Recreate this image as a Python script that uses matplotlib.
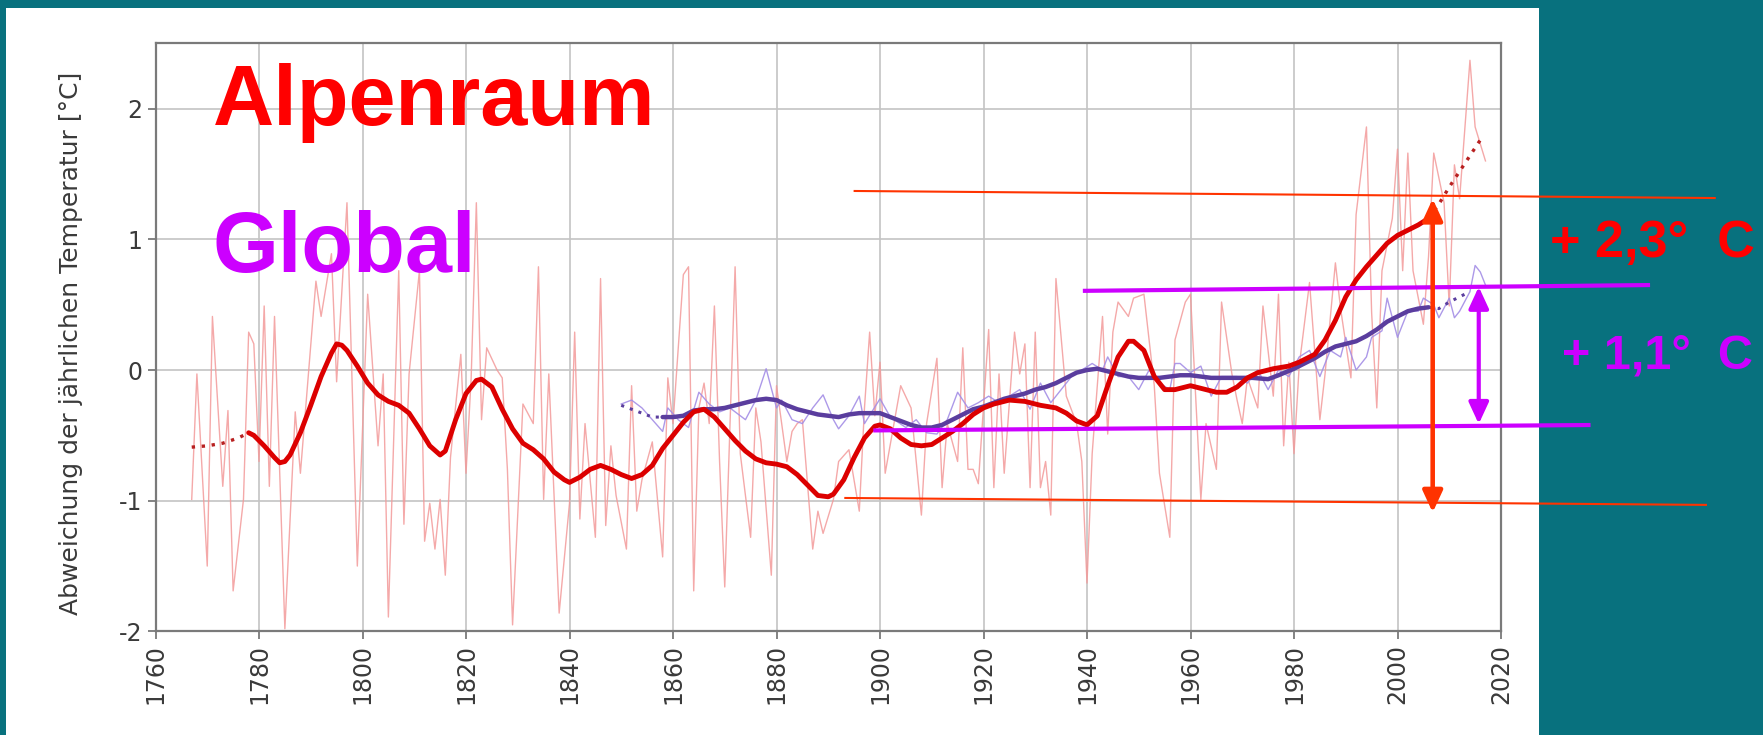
import matplotlib
matplotlib.use("Agg")
import matplotlib.pyplot as plt
from matplotlib.patches import Rectangle

plt.rcParams["font.family"] = ["Liberation Sans", "DejaVu Sans"]
plt.rcParams["axes.unicode_minus"] = False

# Alpenraum, annual values (thin pink line)
alp_years = [1767, 1768, 1770, 1771, 1773, 1774, 1775, 1777, 1778, 1779, 1780, 1781, 1782,
             1783, 1785, 1787, 1788, 1791, 1792, 1794, 1795, 1797, 1799, 1801, 1803, 1804,
             1805, 1807, 1808, 1809, 1811, 1812, 1813, 1814, 1815, 1816, 1817, 1819, 1820,
             1821, 1822, 1823, 1824, 1826, 1827, 1828, 1829, 1831, 1833, 1834, 1835, 1836,
             1838, 1840, 1841, 1842, 1843, 1845, 1846, 1847, 1848, 1849, 1851, 1852, 1853,
             1854, 1856, 1857, 1858, 1859, 1860, 1862, 1863, 1864, 1865, 1866, 1867, 1868,
             1869, 1870, 1872, 1873, 1875, 1876, 1877, 1879, 1880, 1882, 1883, 1884, 1885,
             1887, 1888, 1889, 1891, 1892, 1894, 1896, 1897, 1898, 1899, 1900, 1901, 1904,
             1906, 1908, 1909, 1911, 1912, 1913, 1915, 1916, 1917, 1918, 1919, 1921, 1922,
             1923, 1924, 1926, 1927, 1928, 1929, 1930, 1931, 1932, 1933, 1934, 1936, 1938,
             1939, 1940, 1941, 1943, 1944, 1945, 1946, 1948, 1949, 1951, 1953, 1954, 1956,
             1957, 1959, 1960, 1962, 1963, 1965, 1966, 1968, 1969, 1970, 1971, 1973, 1974,
             1976, 1977, 1978, 1979, 1980, 1981, 1983, 1985, 1986, 1988, 1989, 1991, 1992,
             1994, 1995, 1996, 1997, 1999, 2000, 2001, 2002, 2003, 2005, 2006, 2007, 2009,
             2010, 2011, 2012, 2014, 2015, 2017]
alp_values = [-0.99, -0.03, -1.50, 0.41, -0.89, -0.31, -1.69, -0.99, 0.29, 0.20, -0.70, 0.49, -0.89,
              0.41, -1.98, -0.32, -0.79, 0.68, 0.41, 0.89, -0.09, 1.28, -1.50, 0.58, -0.58, -0.03,
              -1.89, 0.76, -1.18, -0.03, 0.76, -1.31, -1.02, -1.37, -0.99, -1.57, -0.67, 0.12, -0.79,
              -0.06, 1.28, -0.38, 0.17, 0.00, -0.06, -0.76, -1.95, -0.26, -0.41, 0.79, -0.99, -0.03,
              -1.86, -1.02, 0.29, -1.14, -0.41, -1.28, 0.70, -1.19, -0.58, -0.96, -1.37, -0.12, -1.08,
              -0.84, -0.55, -0.99, -1.43, -0.06, -0.41, 0.73, 0.79, -1.69, -0.29, -0.10, -0.41, 0.49,
              -0.70, -1.66, 0.79, -0.64, -1.28, -0.29, -0.55, -1.57, -0.12, -0.70, -0.47, -0.41, -0.38,
              -1.37, -1.08, -1.25, -0.99, -0.70, -0.61, -1.08, -0.29, 0.29, -0.35, 0.06, -0.79, -0.12,
              -0.29, -1.11, -0.41, 0.09, -0.90, -0.41, -0.70, 0.17, -0.76, -0.76, -0.87, 0.31, -0.90,
              -0.03, -0.79, 0.29, -0.03, 0.20, -0.90, 0.29, -0.90, -0.70, -1.11, 0.70, -0.20, -0.41,
              -0.70, -1.63, -0.64, 0.41, -0.49, 0.29, 0.52, 0.41, 0.55, 0.58, -0.12, -0.79, -1.28,
              0.23, 0.52, 0.58, -0.99, -0.41, -0.76, 0.52, -0.03, -0.23, -0.41, -0.06, -0.29, 0.49,
              -0.20, 0.58, -0.58, 0.06, -0.64, 0.03, 0.67, -0.38, -0.03, 0.82, 0.47, -0.06, 1.19,
              1.86, 0.44, -0.29, 0.76, 1.16, 1.69, 0.76, 1.66, 0.76, 0.35, 0.87, 1.66, 1.28,
              0.49, 1.57, 1.31, 2.37, 1.86, 1.60]

# Alpenraum, smoothed (thick red line)
alp_smooth_years = [1778, 1779, 1781, 1783, 1784, 1785, 1786, 1788, 1790, 1792, 1794, 1795, 1796,
                    1797, 1799, 1801, 1803, 1805, 1807, 1809, 1811, 1813, 1815, 1816, 1818, 1820,
                    1822, 1823, 1825, 1827, 1829, 1831, 1833, 1835, 1837, 1839, 1840, 1842, 1844,
                    1846, 1848, 1850, 1852, 1854, 1856, 1858, 1860, 1862, 1864, 1866, 1868, 1870,
                    1872, 1874, 1876, 1878, 1880, 1882, 1884, 1886, 1888, 1890, 1891, 1893, 1895,
                    1897, 1899, 1900, 1902, 1904, 1906, 1908, 1910, 1912, 1914, 1916, 1918, 1920,
                    1922, 1925, 1928, 1931, 1934, 1936, 1938, 1940, 1942, 1944, 1946, 1948, 1949,
                    1951, 1953, 1955, 1957, 1960, 1962, 1965, 1967, 1969, 1971, 1973, 1976, 1979,
                    1981, 1984, 1986, 1988, 1990, 1992, 1994, 1996, 1998, 2000, 2002, 2004, 2006]
alp_smooth_values = [-0.48, -0.50, -0.58, -0.67, -0.71, -0.70, -0.65, -0.48, -0.27, -0.05, 0.13, 0.20, 0.19,
                     0.15, 0.03, -0.10, -0.19, -0.24, -0.27, -0.33, -0.45, -0.58, -0.65, -0.62, -0.38, -0.18,
                     -0.08, -0.07, -0.13, -0.30, -0.45, -0.56, -0.61, -0.68, -0.78, -0.84, -0.86, -0.82, -0.76,
                     -0.73, -0.76, -0.80, -0.83, -0.80, -0.73, -0.60, -0.50, -0.40, -0.32, -0.30, -0.36, -0.45,
                     -0.54, -0.62, -0.68, -0.71, -0.72, -0.74, -0.80, -0.88, -0.96, -0.97, -0.95, -0.84, -0.67,
                     -0.52, -0.43, -0.42, -0.45, -0.52, -0.57, -0.58, -0.57, -0.52, -0.47, -0.41, -0.34, -0.29,
                     -0.26, -0.23, -0.24, -0.27, -0.29, -0.33, -0.39, -0.42, -0.35, -0.12, 0.10, 0.22, 0.22,
                     0.15, -0.05, -0.15, -0.15, -0.12, -0.14, -0.17, -0.17, -0.13, -0.06, -0.02, 0.01, 0.03,
                     0.06, 0.12, 0.23, 0.38, 0.56, 0.69, 0.79, 0.88, 0.97, 1.03, 1.07, 1.11, 1.16]
alp_head_years = [1767, 1770, 1773, 1776, 1778]
alp_head_values = [-0.59, -0.58, -0.56, -0.52, -0.48]
alp_tail_years = [2006, 2008, 2010, 2012, 2014, 2016]
alp_tail_values = [1.16, 1.27, 1.40, 1.52, 1.64, 1.76]

# Global, annual values (thin lilac line)
glob_years = [1850, 1852, 1854, 1856, 1858, 1859, 1861, 1863, 1865, 1867, 1869, 1871, 1874, 1876,
              1878, 1880, 1881, 1883, 1885, 1887, 1889, 1891, 1892, 1894, 1896, 1897, 1900, 1902,
              1905, 1907, 1909, 1911, 1913, 1915, 1917, 1919, 1921, 1923, 1925, 1927, 1929, 1931,
              1933, 1935, 1937, 1939, 1941, 1943, 1944, 1946, 1948, 1950, 1952, 1954, 1956, 1957,
              1958, 1960, 1962, 1964, 1966, 1968, 1969, 1971, 1973, 1975, 1977, 1979, 1981, 1983,
              1985, 1987, 1989, 1990, 1992, 1994, 1995, 1997, 1998, 2000, 2002, 2004, 2005, 2007,
              2008, 2010, 2011, 2012, 2014, 2015, 2016, 2017]
glob_values = [-0.26, -0.23, -0.29, -0.38, -0.47, -0.29, -0.38, -0.44, -0.17, -0.26, -0.32, -0.29, -0.38, -0.23,
               0.01, -0.29, -0.23, -0.38, -0.41, -0.29, -0.19, -0.38, -0.45, -0.35, -0.20, -0.41, -0.22, -0.36,
               -0.44, -0.38, -0.48, -0.49, -0.38, -0.17, -0.29, -0.25, -0.20, -0.25, -0.20, -0.15, -0.30, -0.10,
               -0.25, -0.15, -0.05, 0.00, 0.05, 0.00, 0.10, -0.05, -0.05, -0.15, 0.00, -0.10, -0.15, 0.05,
               0.05, -0.02, 0.03, -0.20, -0.05, -0.05, -0.05, -0.10, 0.00, -0.15, 0.00, -0.05, 0.10, 0.15,
               -0.05, 0.15, 0.10, 0.25, 0.00, 0.10, 0.25, 0.30, 0.55, 0.25, 0.45, 0.45, 0.55, 0.50,
               0.40, 0.55, 0.40, 0.45, 0.60, 0.80, 0.75, 0.65]

# Global, smoothed (thick indigo line)
glob_smooth_years = [1858, 1860, 1862, 1864, 1866, 1868, 1870, 1872, 1874, 1876, 1878, 1880, 1882,
                     1884, 1886, 1888, 1890, 1892, 1894, 1896, 1898, 1900, 1902, 1904, 1906, 1908,
                     1910, 1912, 1914, 1916, 1918, 1920, 1922, 1924, 1926, 1928, 1930, 1932, 1934,
                     1936, 1938, 1940, 1942, 1944, 1946, 1948, 1950, 1952, 1954, 1956, 1958, 1960,
                     1962, 1964, 1966, 1968, 1970, 1972, 1975, 1977, 1980, 1982, 1984, 1986, 1988,
                     1990, 1992, 1994, 1996, 1998, 2000, 2002, 2004, 2006]
glob_smooth_values = [-0.36, -0.36, -0.35, -0.31, -0.30, -0.30, -0.29, -0.27, -0.25, -0.23, -0.22, -0.23, -0.27,
                      -0.30, -0.32, -0.34, -0.35, -0.36, -0.34, -0.33, -0.33, -0.33, -0.36, -0.39, -0.42, -0.44,
                      -0.44, -0.42, -0.38, -0.34, -0.30, -0.28, -0.25, -0.22, -0.20, -0.18, -0.15, -0.13, -0.10,
                      -0.06, -0.02, 0.00, 0.01, -0.01, -0.03, -0.05, -0.06, -0.06, -0.06, -0.05, -0.04, -0.04,
                      -0.05, -0.06, -0.06, -0.06, -0.06, -0.06, -0.07, -0.04, 0.01, 0.05, 0.09, 0.14, 0.18,
                      0.20, 0.22, 0.26, 0.31, 0.37, 0.41, 0.45, 0.47, 0.48]
glob_head_years = [1850, 1852, 1854, 1856, 1858]
glob_head_values = [-0.27, -0.30, -0.33, -0.36, -0.36]
glob_tail_years = [2006, 2008, 2010, 2012, 2014]
glob_tail_values = [0.48, 0.47, 0.52, 0.56, 0.60]

x_ticks = list(range(1760, 2021, 20))
y_ticks = [-2, -1, 0, 1, 2]

# annotation lines (year, value) and arrows
red_range = [(1895.1, 1.37, 2061.3, 1.316), (1893.3, -0.979, 2059.6, -1.032)]
glob_range = [(1939.6, 0.606, 2048.4, 0.650), (1899.1, -0.462, 2036.9, -0.421)]
red_arrow = (2006.8, 1.31, -1.09)
glob_arrow = (2015.7, 0.637, -0.413)

TEAL = "#08717e"
RED = "#ff0000"
ORANGE_RED = "#ff3300"
VIOLET = "#cc00ff"
AXIS_FONT = ["DejaVu Sans"]

fig = plt.figure(figsize=(17.63, 7.35), dpi=100)
fig.patch.set_facecolor(TEAL)
fig.add_artist(Rectangle((6 / 1763, 0), 1533 / 1763, 727 / 735,
                         transform=fig.transFigure, facecolor="white",
                         edgecolor="none", zorder=0))

ax = fig.add_axes([155.5 / 1763, 103.6 / 735, 1345.5 / 1763, 588.1 / 735])
ax.set_facecolor("white")

ax.plot(alp_years, alp_values, color="#f39a9a", lw=1.0, alpha=0.85, zorder=2)
ax.plot(glob_years, glob_values, color="#a48ee6", lw=1.0, alpha=0.9, zorder=3)

ax.plot(glob_smooth_years, glob_smooth_values, color="#5a3d9e", lw=3.2, zorder=4,
        solid_capstyle="round")
ax.plot(glob_head_years, glob_head_values, color="#5a3d9e", lw=2.2, ls=(0, (1, 2)), zorder=4)
ax.plot(glob_tail_years, glob_tail_values, color="#5a3d9e", lw=2.2, ls=(0, (1, 2)), zorder=4)

ax.plot(alp_smooth_years, alp_smooth_values, color="#dc0000", lw=3.5, zorder=5,
        solid_capstyle="round")
ax.plot(alp_head_years, alp_head_values, color="#b82020", lw=2.4, ls=(0, (1, 2)), zorder=5)
ax.plot(alp_tail_years, alp_tail_values, color="#b82020", lw=2.4, ls=(0, (1, 2)), zorder=5)

ax.set_xlim(1760, 2020)
ax.set_ylim(-2, 2.5)
ax.set_xticks(x_ticks)
ax.set_yticks(y_ticks)
ax.set_xticklabels([str(t) for t in x_ticks], rotation=90, family=AXIS_FONT, fontsize=17)
ax.set_yticklabels([str(t) for t in y_ticks], family=AXIS_FONT, fontsize=17)
ax.grid(True, color="#c4c4c4", lw=1.2)
ax.set_axisbelow(True)
for s in ax.spines.values():
    s.set_color("#7a7a7a")
    s.set_linewidth(1.6)
ax.tick_params(axis="both", labelcolor="#3a3a3a", color="#7a7a7a", length=6, width=1.3)
ax.tick_params(axis="x", pad=3)
ax.set_ylabel("Abweichung der jährlichen Temperatur [°C]", fontsize=18,
              color="#3a3a3a", family=AXIS_FONT)
ax.yaxis.set_label_coords(-0.054, 0.49)

# big labels
ax.text(1771.0, 1.875, "Alpenraum", color=RED, fontsize=61, fontweight="bold",
        ha="left", va="baseline", zorder=8)
ax.text(1771.0, 0.75, "Global", color=VIOLET, fontsize=61, fontweight="bold",
        ha="left", va="baseline", zorder=8)

# range lines
for x0, y0, x1, y1 in red_range:
    ax.plot([x0, x1], [y0, y1], color=ORANGE_RED, lw=1.5, clip_on=False, zorder=9)
for x0, y0, x1, y1 in glob_range:
    ax.plot([x0, x1], [y0, y1], color=VIOLET, lw=3.0, clip_on=False, zorder=9)

for (x, top, bottom), col, lw in [(red_arrow, ORANGE_RED, 3.3), (glob_arrow, VIOLET, 3.0)]:
    ax.annotate("", xy=(x, top), xytext=(x, bottom),
                arrowprops=dict(arrowstyle="<|-|>,head_length=0.65,head_width=0.3",
                                color=col, lw=lw, mutation_scale=20,
                                shrinkA=0, shrinkB=0),
                annotation_clip=False, zorder=10)

ax.text(2029.5, 0.867, "+ 2,3°  C", color=RED, fontsize=37.5, fontweight="bold",
        ha="left", va="baseline", clip_on=False, zorder=10)
ax.text(2031.8, 0.015, "+ 1,1°  C", color=VIOLET, fontsize=35, fontweight="bold",
        ha="left", va="baseline", clip_on=False, zorder=10)

fig.savefig("out.png", dpi=100, facecolor=fig.get_facecolor())
